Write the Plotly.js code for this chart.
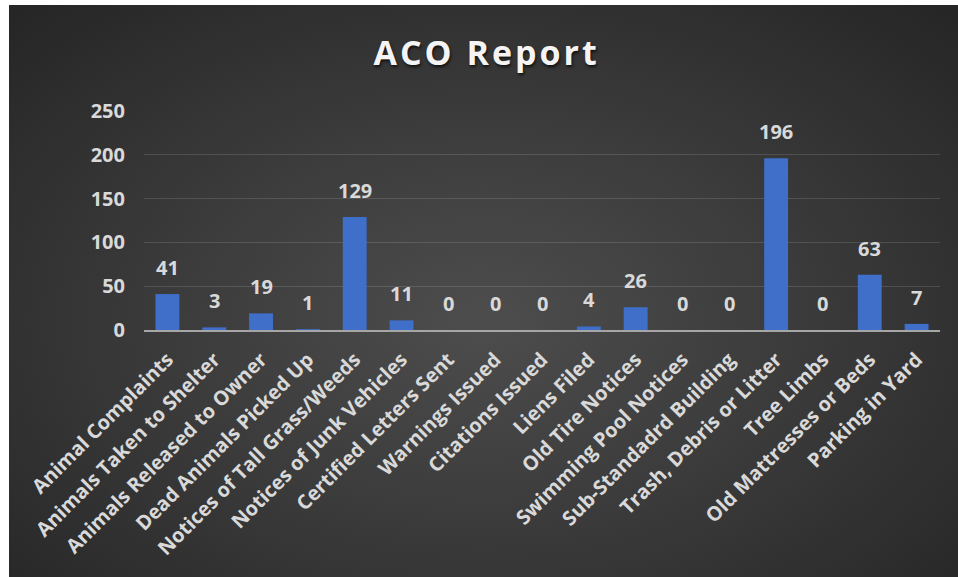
<!DOCTYPE html>
<html>
<head>
<meta charset="utf-8">
<script src="https://cdn.plot.ly/plotly-3.0.1.min.js"></script>
<style>
  html, body { margin: 0; padding: 0; background: #ffffff; width: 958px; height: 577px; overflow: hidden; }
  #bg { position: absolute; left: 9px; top: 5px; width: 949px; height: 572px;
        background: radial-gradient(ellipse 70% 75% at 50% 55%, #4d4d4d 0%, #3c3c3c 45%, #262626 100%); }
  #chart { position: absolute; left: 0; top: 0; width: 958px; height: 577px; }
  .gtitle { letter-spacing: 3px; }
</style>
</head>
<body>
<div id="bg"></div>
<div id="chart"></div>
<script>
const categories = [
  "Animal Complaints", "Animals Taken to Shelter", "Animals Released to Owner",
  "Dead Animals Picked Up", "Notices of Tall Grass/Weeds", "Notices of Junk Vehicles",
  "Certified Letters Sent", "Warnings Issued", "Citations Issued", "Liens Filed",
  "Old Tire Notices", "Swimming Pool Notices", "Sub-Standadrd Building",
  "Trash, Debris or Litter", "Tree Limbs", "Old Mattresses or Beds", "Parking in Yard"
];
const values = [41, 3, 19, 1, 129, 11, 0, 0, 0, 4, 26, 0, 0, 196, 0, 63, 7];
const yTicks = [0, 50, 100, 150, 200, 250];
const chartTitle = "ACO Report";

const labelColor = "#d9d9d9";
const fontFamily = "Open Sans, Noto Sans, sans-serif";

const trace = {
  type: "bar",
  x: categories,
  y: values,
  marker: { color: "#3f6fc8", line: { width: 0 } },
  hoverinfo: "x+y"
};

const annotations = categories.map((c, i) => ({
  x: c, y: values[i], xref: "x", yref: "y",
  text: String(values[i]), showarrow: false,
  yanchor: "bottom", yshift: 11,
  font: { family: fontFamily, size: 20, color: labelColor, weight: 700 }
}));

const layout = {
  width: 958, height: 577,
  paper_bgcolor: "rgba(0,0,0,0)",
  plot_bgcolor: "rgba(0,0,0,0)",
  margin: { l: 144, r: 18, t: 110, b: 247 },
  bargap: 0.49,
  showlegend: false,
  title: {
    text: chartTitle,
    xref: "container", x: 0.508, xanchor: "center",
    yref: "container", y: 0.908, yanchor: "middle",
    font: { family: fontFamily, size: 34, color: "#f4f4f4", weight: 700,
            shadow: "1px 2px 3px rgba(0,0,0,0.7)" }
  },
  xaxis: {
    type: "category",
    tickangle: -45,
    tickfont: { family: fontFamily, size: 20, color: labelColor, weight: 700 },
    showgrid: false,
    showline: true, linecolor: "#a6a6a6", linewidth: 2,
    ticks: "", ticklabelstandoff: 8,
    layer: "above traces"
  },
  yaxis: {
    range: [0, 251],
    tickvals: yTicks,
    ticktext: yTicks.map(String),
    tickfont: { family: fontFamily, size: 20, color: labelColor, weight: 700 },
    showgrid: true, gridcolor: "rgba(255,255,255,0.13)", gridwidth: 1,
    zeroline: false, showline: false,
    ticks: "", ticklabelstandoff: 18
  },
  annotations: annotations
};

Plotly.newPlot("chart", [trace], layout, { displayModeBar: false, staticPlot: true });
</script>
</body>
</html>
